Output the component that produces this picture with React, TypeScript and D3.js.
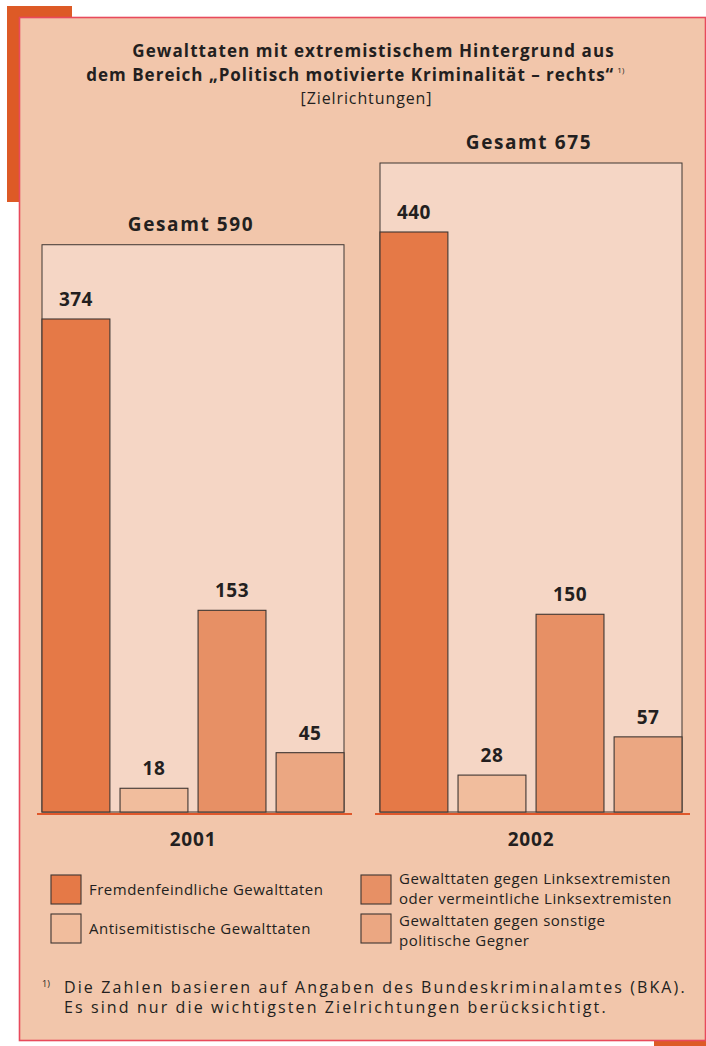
import React from "react";
import * as d3 from "d3";

const years = ["2001", "2002"];
const categories = [
  "Fremdenfeindliche Gewalttaten",
  "Antisemitistische Gewalttaten",
  "Gewalttaten gegen Linksextremisten oder vermeintliche Linksextremisten",
  "Gewalttaten gegen sonstige politische Gegner",
];
const values2001 = [374, 18, 153, 45];
const values2002 = [440, 28, 150, 57];
const totals = [590, 675];
const legendLines = [
  ["Fremdenfeindliche Gewalttaten"],
  ["Antisemitistische Gewalttaten"],
  ["Gewalttaten gegen Linksextremisten", "oder vermeintliche Linksextremisten"],
  ["Gewalttaten gegen sonstige", "politische Gegner"],
];
const titleLines = [
  "Gewalttaten mit extremistischem Hintergrund aus",
  "dem Bereich \u201EPolitisch motivierte Kriminalit\u00E4t \u2013 rechts\u201C",
];
const subtitle = "[Zielrichtungen]";
const footnoteLines = [
  "Die Zahlen basieren auf Angaben des Bundeskriminalamtes (BKA).",
  "Es sind nur die wichtigsten Zielrichtungen ber\u00FCcksichtigt.",
];

const colors = ["#E57947", "#F1BD9D", "#E79065", "#EBA782"];
const BG = "#F2C6AB";
const INNER = "#F5D6C5";
const TEXT = "#231F20";
const STROKE = "#3f3632";
const FONT = "'Open Sans', 'Noto Sans', sans-serif";

export default function App() {
  const W = 706;
  const H = 1046;
  const baseY = 812;
  const seriesByYear = [values2001, values2002];

  const xPanel = d3.scaleBand<string>().domain(years).range([42, 682]).paddingInner(0.1065);
  const xBar = d3
    .scaleBand<string>()
    .domain(categories)
    .range([0, xPanel.bandwidth()])
    .paddingInner(0.13);
  const maxVal = d3.max(seriesByYear.flat()) as number;
  const yBar = d3.scaleLinear().domain([0, maxVal]).range([baseY, 232]);
  const yTotal = d3.scaleLinear().domain([0, d3.max(totals) as number]).range([baseY, 163]);

  const legendX = [51, 361];
  const legendY = [875, 914];

  return (
    <svg
      width={W}
      height={H}
      style={{ position: "absolute", left: 0, top: 0, display: "block" }}
      fontFamily={FONT}
    >
      <rect x={0} y={0} width={W} height={H} fill="#fff" />
      {/* accents */}
      <rect x={7} y={6} width={65} height={196} fill="#DD5A26" />
      <rect x={654} y={1030} width={52} height={16} fill="#DD5A26" />
      {/* main box */}
      <rect x={19.5} y={17.5} width={686} height={1023} fill={BG} stroke="#E84A5C" strokeWidth={1.6} />

      {/* title */}
      <g fill={TEXT} textAnchor="middle">
        <text x={373.5} y={57} fontSize={17} fontWeight={700} letterSpacing={1.1}>
          {titleLines[0]}
        </text>
        <text x={355.5} y={81} fontSize={17} fontWeight={700} letterSpacing={1.0}>
          {titleLines[1]}
          <tspan fontSize={8} fontWeight={400} dx={3} dy={-8} letterSpacing={0.3}>
            1)
          </tspan>
        </text>
        <text x={366.5} y={104} fontSize={16} fontWeight={400} letterSpacing={0.9}>
          {subtitle}
        </text>
      </g>

      {years.map((yr, i) => {
        const px = xPanel(yr) as number;
        const pw = xPanel.bandwidth();
        const vals = seriesByYear[i];
        const boxTop = yTotal(totals[i]);
        return (
          <g key={yr}>
            <rect
              x={px}
              y={boxTop}
              width={pw}
              height={baseY - boxTop}
              fill={INNER}
              stroke={STROKE}
              strokeWidth={1}
            />
            <text
              x={px + pw / 2 - 2}
              y={boxTop - 14}
              textAnchor="middle"
              fontSize={19}
              fontWeight={700}
              letterSpacing={1.6}
              fill={TEXT}
            >
              {`Gesamt ${totals[i]}`}
            </text>
            {categories.map((c, j) => {
              const bx = px + (xBar(c) as number);
              const by = yBar(vals[j]);
              return (
                <g key={c}>
                  <rect
                    x={bx}
                    y={by}
                    width={xBar.bandwidth()}
                    height={baseY - by}
                    fill={colors[j]}
                    stroke={STROKE}
                    strokeWidth={1.1}
                  />
                  <text
                    x={bx + xBar.bandwidth() / 2}
                    y={by - 13}
                    textAnchor="middle"
                    fontSize={19}
                    fontWeight={700}
                    letterSpacing={0.5}
                    fill={TEXT}
                  >
                    {vals[j]}
                  </text>
                </g>
              );
            })}
            <line
              x1={px - 5}
              x2={px + pw + 8}
              y1={baseY + 2}
              y2={baseY + 2}
              stroke="#E0572A"
              strokeWidth={2}
            />
            <text
              x={px + pw / 2}
              y={846}
              textAnchor="middle"
              fontSize={19}
              fontWeight={700}
              letterSpacing={0.8}
              fill={TEXT}
            >
              {yr}
            </text>
          </g>
        );
      })}

      {/* legend */}
      {categories.map((c, j) => {
        const col = j < 2 ? 0 : 1;
        const row = j % 2;
        const sx = legendX[col];
        const sy = legendY[row];
        const lines = legendLines[j];
        return (
          <g key={c}>
            <rect x={sx} y={sy} width={30} height={29} fill={colors[j]} stroke={STROKE} strokeWidth={1.1} />
            {lines.map((ln, k) => (
              <text
                key={k}
                x={sx + 38}
                y={lines.length === 1 ? sy + 20 : sy + 9 + row * 3 + k * 19.5}
                fontSize={15}
                letterSpacing={0.5}
                fill={TEXT}
              >
                {ln}
              </text>
            ))}
          </g>
        );
      })}

      {/* footnote */}
      <text x={42} y={987} fontSize={9} fill={TEXT}>
        1)
      </text>
      {footnoteLines.map((ln, k) => (
        <text key={k} x={64} y={993 + k * 20} fontSize={16} letterSpacing={2.1} fill={TEXT}>
          {ln}
        </text>
      ))}
    </svg>
  );
}
